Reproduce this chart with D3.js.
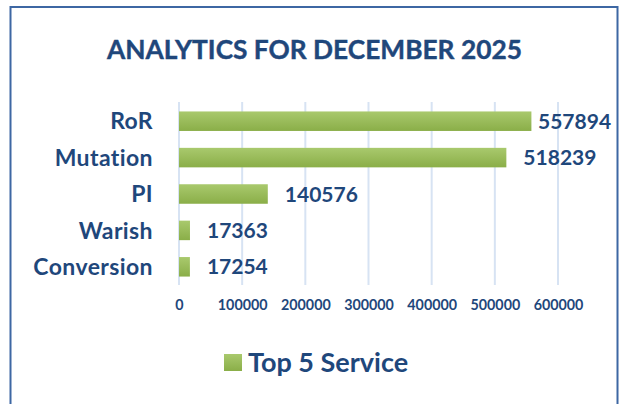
<!DOCTYPE html>
<html><head><meta charset="utf-8">
<script src="https://cdn.jsdelivr.net/npm/d3@7"></script>
<style>
html,body{margin:0;padding:0;background:#fff;}
svg text{font-family:Lato,"Open Sans",sans-serif;font-weight:700;fill:#1f477b;}
</style></head>
<body>
<svg id="chart" width="623" height="404"></svg>
<script>
const title = "ANALYTICS FOR DECEMBER 2025";
const categories = ["RoR", "Mutation", "PI", "Warish", "Conversion"];
const values = [557894, 518239, 140576, 17363, 17254];
const tickValues = [0, 100000, 200000, 300000, 400000, 500000, 600000];
const seriesName = "Top 5 Service";

const svg = d3.select("#chart");
const defs = svg.append("defs");
const grad = defs.append("linearGradient").attr("id","barGrad").attr("x1",0).attr("y1",0).attr("x2",0).attr("y2",1);
grad.append("stop").attr("offset","0%").attr("stop-color","#a9c96d");
grad.append("stop").attr("offset","100%").attr("stop-color","#8aae48");

// frame
svg.append("rect").attr("x",10.5).attr("y",7).attr("width",607).attr("height",420)
  .attr("fill","none").attr("stroke","#3d67a3").attr("stroke-width",2);

svg.append("text").attr("x",314.5).attr("y",59).attr("text-anchor","middle")
  .style("font-size","26.3px").style("stroke","#1f477b").style("stroke-width","0.4px").text(title);

const x = d3.scaleLinear().domain([0,600000]).range([179,558]);
const y = d3.scaleBand().domain(categories).range([103,285]).paddingInner(0.464).paddingOuter(0.232);

// gridlines
svg.append("g").selectAll("line").data(tickValues).join("line")
  .attr("x1",d=>x(d)).attr("x2",d=>x(d)).attr("y1",102).attr("y2",285)
  .attr("stroke","#d7e3f3").attr("stroke-width",2);

// axis labels
const axis = d3.axisBottom(x).tickValues(tickValues).tickFormat(d3.format("d")).tickSize(0).tickPadding(0);
const ax = svg.append("g").attr("transform","translate(0,300)").call(axis);
ax.select(".domain").remove();
ax.selectAll("text").attr("dy","0.71em").attr("y",0).style("font-size","14.3px").style("fill","#1f477b");

// bars
svg.append("g").selectAll("rect").data(values).join("rect")
  .attr("x",x(0)).attr("y",(d,i)=>y(categories[i]))
  .attr("width",d=>x(d)-x(0)).attr("height",y.bandwidth())
  .attr("fill","url(#barGrad)");

// category labels
svg.append("g").selectAll("text").data(categories).join("text")
  .attr("x",153).attr("y",d=>y(d)+y.bandwidth()/2).attr("dy","0.36em")
  .attr("text-anchor","end").style("font-size","23px").style("letter-spacing","0.4px").text(d=>d);

// value labels
svg.append("g").selectAll("text").data(values).join("text")
  .attr("x",d=>Math.min(x(d)+17, 538)).attr("y",(d,i)=>y(categories[i])+y.bandwidth()/2).attr("dy","0.36em")
  .style("font-size","21px").text(d=>d);

// legend
svg.append("rect").attr("x",224).attr("y",354).attr("width",18).attr("height",17).attr("fill","url(#barGrad)");
svg.append("text").attr("x",248).attr("y",372).style("font-size","27px").text(seriesName);
</script>
</body></html>
